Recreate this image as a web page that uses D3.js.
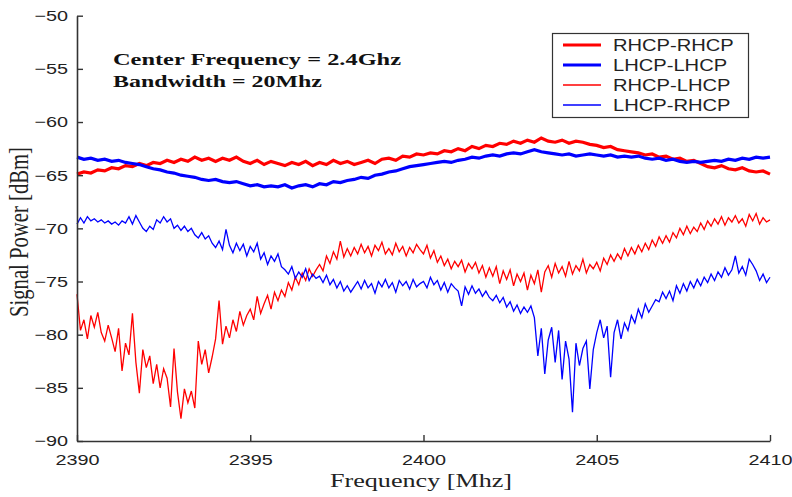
<!DOCTYPE html>
<html>
<head>
<meta charset="utf-8">
<script src="https://cdn.jsdelivr.net/npm/d3@7"></script>
<style>
  html, body { margin: 0; padding: 0; background: #fff; }
  svg { display: block; }
</style>
</head>
<body>
<svg id="chart" width="792" height="497"></svg>
<script>
// Received power across the 2390–2410 MHz band for co- and cross-polarised antenna pairs.

const freqStart = 2390;
const freqEnd = 2410;

// Co-polarised pairs, sampled every 0.2 MHz
const coStep = 0.2;
const rhcpRhcp = [
  -64.9, -64.7, -64.8, -64.5, -64.6, -64.3, -64.4, -64.1, -64.2, -63.9,
  -64.1, -63.8, -63.9, -63.6, -63.8, -63.5, -63.7, -63.3, -63.6, -63.4,
  -63.7, -63.4, -63.6, -63.3, -63.7, -63.9, -63.6, -64.0, -63.7, -63.9,
  -64.1, -63.8, -64.0, -63.7, -64.1, -63.8, -64.0, -63.6, -63.9, -63.7,
  -64.0, -63.8, -63.6, -63.9, -63.5, -63.4, -63.6, -63.2, -63.3, -63.0,
  -63.1, -62.9, -63.0, -62.7, -62.8, -62.5, -62.7, -62.3, -62.5, -62.2,
  -62.3, -62.0, -62.1, -61.8, -62.0, -61.7, -61.9, -61.5, -61.8, -61.9,
  -61.7, -62.0, -61.8, -61.9, -62.1, -62.2, -62.4, -62.3, -62.6, -62.7,
  -62.8, -62.9, -63.1, -63.0, -63.3, -63.2, -63.5, -63.4, -63.7, -63.6,
  -63.9, -64.2, -64.3, -64.1, -64.4, -64.5, -64.3, -64.6, -64.7, -64.6, -64.9
];
const lhcpLhcp = [
  -63.3, -63.5, -63.4, -63.6, -63.5, -63.7, -63.6, -63.8, -63.9, -64.0,
  -64.2, -64.4, -64.5, -64.7, -64.8, -65.0, -65.1, -65.2, -65.4, -65.5,
  -65.4, -65.6, -65.7, -65.6, -65.8, -66.0, -65.9, -66.1, -66.0, -66.1,
  -65.9, -66.2, -66.0, -65.9, -66.1, -65.8, -65.9, -65.6, -65.7, -65.5,
  -65.4, -65.2, -65.3, -65.0, -64.9, -64.7, -64.6, -64.4, -64.2, -64.1,
  -64.0, -63.9, -63.8, -63.7, -63.8, -63.6, -63.5, -63.3, -63.4, -63.2,
  -63.1, -63.2, -63.0, -62.9, -63.0, -62.8, -62.6, -62.8, -62.9, -63.0,
  -63.1, -63.0, -63.2, -63.1, -63.0, -63.1, -63.2, -63.1, -63.3, -63.2,
  -63.3, -63.2, -63.4, -63.5, -63.4, -63.6, -63.5, -63.7, -63.8, -63.7,
  -63.8, -63.7, -63.6, -63.7, -63.5, -63.6, -63.4, -63.5, -63.3, -63.4, -63.3
];

// Cross-polarised pairs, sampled every 0.1 MHz
const crossStep = 0.1;
const rhcpLhcp = [
  -76.2, -79.6, -78.6, -80.4, -78.2, -79.3, -77.9, -79.8, -80.6, -79.1,
  -80.3, -81.6, -79.4, -83.4, -80.8, -81.9, -78.0, -82.6, -85.5, -81.4,
  -83.1, -82.0, -84.6, -82.8, -85.0, -83.2, -84.1, -86.8, -81.3, -85.4,
  -87.9, -85.1, -86.4, -85.3, -86.9, -80.6, -82.8, -81.4, -83.6, -82.1,
  -80.4, -76.8, -80.9, -79.2, -80.3, -78.6, -79.7, -77.8, -79.1, -78.2,
  -77.6, -78.6, -76.4, -78.0, -77.1, -76.3, -77.6, -76.0, -76.8, -75.8,
  -76.4, -75.1, -75.8, -74.6, -75.3, -74.2, -74.9, -73.8, -74.5, -73.9,
  -73.4, -74.0, -72.6, -73.3, -72.2, -72.9, -71.2, -72.7, -71.9, -72.6,
  -71.8, -72.4, -71.5, -72.3, -71.7, -72.6, -71.6, -72.1, -71.3, -72.4,
  -71.9, -72.5, -71.4, -72.2, -71.7, -72.6, -71.8, -72.3, -71.5, -72.0,
  -72.4, -71.6, -72.8, -72.1, -73.2, -72.6, -73.5, -72.9, -73.8, -73.1,
  -73.6, -73.0, -74.1, -73.3, -73.8, -73.2, -74.2, -73.5, -74.6, -73.7,
  -74.5, -73.6, -75.2, -74.0, -74.8, -73.9, -75.4, -74.3, -75.0, -74.2,
  -75.8, -74.4, -75.2, -73.9, -76.0, -74.1, -73.5, -74.6, -73.3, -74.2,
  -73.6, -74.5, -73.1, -74.3, -73.5, -74.0, -72.9, -74.2, -73.4, -73.8,
  -73.2, -74.0, -72.8, -73.4, -72.5, -73.1, -72.4, -72.9, -71.9, -72.6,
  -71.8, -72.4, -71.6, -72.2, -71.4, -72.0, -71.1, -71.7, -70.8, -71.4,
  -70.7, -71.3, -70.4, -70.9, -70.0, -70.6, -69.8, -70.5, -69.9, -70.3,
  -69.5, -70.1, -69.3, -69.8, -69.1, -69.6, -68.9, -69.7, -69.0, -69.4,
  -68.8, -69.5, -69.1, -69.8, -68.7, -69.3, -68.6, -69.6, -69.0, -69.4, -69.2
];
const lhcpRhcp = [
  -69.6, -69.0, -69.5, -68.9, -69.3, -69.1, -69.4, -69.2, -69.5, -69.3,
  -69.6, -69.4, -69.7, -69.3, -69.5, -68.9, -69.6, -68.8, -69.4, -70.0,
  -70.3, -69.8, -70.1, -69.2, -69.5, -68.9, -69.4, -69.1, -70.0, -69.7,
  -70.2, -69.8, -70.3, -70.0, -70.6, -70.9, -70.4, -71.0, -70.7, -71.4,
  -71.8, -71.2, -72.0, -70.1, -71.6, -72.3, -71.4, -72.1, -71.5, -72.6,
  -71.7, -72.2, -71.4, -72.9, -72.3, -73.4, -72.6, -73.1, -72.4, -73.6,
  -73.9, -74.3, -73.6, -74.7, -74.1, -74.6, -73.8, -74.9, -74.3, -74.7,
  -74.5, -75.1, -74.4, -75.3, -74.8, -75.6, -75.0, -75.9, -75.4, -76.0,
  -75.5, -75.0, -75.7, -74.9, -75.6, -75.2, -76.1, -75.0, -75.5, -74.8,
  -75.6, -75.1, -76.0, -74.9, -75.4, -75.0, -75.7, -74.8, -75.5, -75.2,
  -75.0, -75.6, -74.6, -75.3, -74.9, -75.8, -75.1, -76.0, -75.2, -75.6,
  -75.9, -77.3, -75.5, -76.2, -75.4, -76.1, -75.7, -76.4, -75.9, -76.5,
  -76.8, -76.3, -77.0, -76.5, -77.4, -76.9, -77.8, -77.2, -78.0, -77.4,
  -77.9, -77.3, -78.4, -82.0, -79.4, -83.7, -80.5, -79.3, -82.6, -79.6,
  -84.2, -80.6, -82.3, -87.3, -80.8, -82.9, -81.3, -80.6, -85.1, -81.4,
  -79.8, -78.6, -80.3, -79.2, -84.0, -79.8, -78.6, -80.4, -78.9, -79.6,
  -78.2, -78.9, -77.6, -78.4, -77.1, -77.9, -77.3, -76.7, -76.9, -76.0,
  -76.6, -75.9, -76.8, -75.4, -76.1, -75.2, -75.9, -75.0, -75.6, -74.8,
  -75.4, -74.6, -75.1, -74.3, -74.9, -74.1, -74.6, -73.7, -74.4, -73.9,
  -72.6, -74.2, -73.6, -74.4, -72.9, -73.4, -74.0, -74.9, -74.3, -75.1, -74.6
];

const seriesNames = ["RHCP-RHCP", "LHCP-LHCP", "RHCP-LHCP", "LHCP-RHCP"];
const seriesColors = ["#ff0000", "#0000ff", "#ff0000", "#0000ff"];
const seriesWidths = [3.2, 3.2, 1.3, 1.3];

const xTicks = [2390, 2395, 2400, 2405, 2410];
const yTicks = [-50, -55, -60, -65, -70, -75, -80, -85, -90];

const notes = ["Center Frequency = 2.4Ghz", "Bandwidth = 20Mhz"];
const xTitle = "Frequency [Mhz]";
const yTitle = "Signal Power [dBm]";

// ---------------------------------------------------------------
const sans = "'Liberation Sans', Arial, sans-serif";
const serif = "'Liberation Serif', 'Times New Roman', serif";
const stretchX = 1.32;   // glyphs are drawn wide throughout the figure

const svg = d3.select("#chart");
const plot = { left: 77, right: 770, top: 15.7, bottom: 441 };

const x = d3.scaleLinear().domain([freqStart, freqEnd]).range([plot.left, plot.right]);
const y = d3.scaleLinear().domain([-90, -50]).range([plot.bottom, plot.top]);

const toPoints = (vals, step) => vals.map((v, i) => ({ f: freqStart + i * step, v }));
const seriesData = [
  toPoints(rhcpRhcp, coStep),
  toPoints(lhcpLhcp, coStep),
  toPoints(rhcpLhcp, crossStep),
  toPoints(lhcpRhcp, crossStep)
];

// widen a text element horizontally by the common factor
function widen(sel, factor) {
  sel.each(function () {
    const w = this.getComputedTextLength();
    d3.select(this).attr("textLength", w * factor).attr("lengthAdjust", "spacingAndGlyphs");
  });
}

// traces
const line = d3.line().x(d => x(d.f)).y(d => y(d.v));
const traces = svg.append("g");
seriesData.forEach((pts, k) => {
  traces.append("path")
    .datum(pts)
    .attr("d", line)
    .attr("fill", "none")
    .attr("stroke", seriesColors[k])
    .attr("stroke-width", seriesWidths[k])
    .attr("stroke-linejoin", "miter")
    .attr("stroke-linecap", "butt");
});

// axes (left and bottom only, ticks pointing inward)
const axisColor = "#333";
const xAxis = svg.append("g")
  .attr("transform", `translate(0,${plot.bottom})`)
  .call(d3.axisBottom(x).tickValues(xTicks).tickFormat(d3.format("d")).tickSizeInner(-6).tickSizeOuter(0).tickPadding(13));
const yAxis = svg.append("g")
  .attr("transform", `translate(${plot.left},0)`)
  .call(d3.axisLeft(y).tickValues(yTicks).tickFormat(d3.format("d")).tickSizeInner(-6).tickSizeOuter(0).tickPadding(9));

[xAxis, yAxis].forEach(g => {
  g.select(".domain").attr("stroke", axisColor).attr("stroke-width", 1.6);
  g.selectAll(".tick line").attr("stroke", axisColor).attr("stroke-width", 1.4);
  g.selectAll(".tick text")
    .attr("fill", "#222")
    .style("font-family", sans)
    .style("font-size", "15px");
});
xAxis.selectAll(".tick text").call(widen, stretchX);
yAxis.selectAll(".tick text").call(widen, stretchX);

// axis titles
svg.append("text")
  .attr("x", 421).attr("y", 487)
  .attr("text-anchor", "middle")
  .style("font-family", serif).style("font-size", "19px")
  .attr("fill", "#222")
  .text(xTitle)
  .attr("textLength", 182).attr("lengthAdjust", "spacingAndGlyphs");

svg.append("text")
  .attr("transform", `translate(28,232) scale(${stretchX},1) rotate(-90)`)
  .attr("text-anchor", "middle")
  .style("font-family", serif).style("font-size", "20px")
  .attr("fill", "#222")
  .text(yTitle)
  .attr("textLength", 170).attr("lengthAdjust", "spacingAndGlyphs");

// annotation
const noteWidths = [288, 209];
notes.forEach((t, i) => {
  svg.append("text")
    .attr("x", 113).attr("y", 65 + i * 21.5)
    .style("font-family", serif).style("font-size", "17px").style("font-weight", "bold")
    .attr("fill", "#111")
    .text(t)
    .attr("textLength", noteWidths[i]).attr("lengthAdjust", "spacingAndGlyphs");
});

// legend
const legend = svg.append("g");
legend.append("rect")
  .attr("x", 552.5).attr("y", 33.5).attr("width", 196).attr("height", 84)
  .attr("fill", "#fff").attr("stroke", "#333").attr("stroke-width", 1.2);
seriesNames.forEach((name, k) => {
  const cy = 45 + k * 20;
  legend.append("line")
    .attr("x1", 563).attr("x2", 601).attr("y1", cy).attr("y2", cy)
    .attr("stroke", seriesColors[k]).attr("stroke-width", seriesWidths[k]);
  legend.append("text")
    .attr("x", 613).attr("y", cy + 6)
    .style("font-family", sans).style("font-size", "16.5px")
    .attr("fill", "#222")
    .text(name)
    .call(widen, 1.22);
});
</script>
</body>
</html>
